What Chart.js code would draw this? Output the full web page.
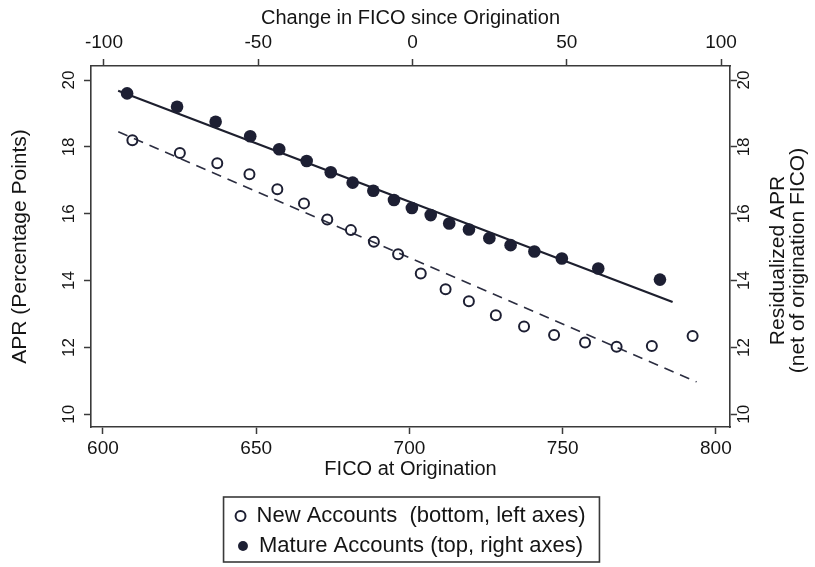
<!DOCTYPE html>
<html><head><meta charset="utf-8">
<script src="https://cdn.jsdelivr.net/npm/chart.js@4.4.0/dist/chart.umd.min.js"></script>
<style>html,body{margin:0;padding:0;background:#fff;}</style>
</head><body>
<canvas id="c" width="815" height="567"></canvas>
<script>
// ---- data ----
const newFico = [609.6, 625.1, 637.3, 647.8, 656.9, 665.6, 673.2, 680.9, 688.4, 696.3, 703.7, 711.8, 719.4, 728.2, 737.4, 747.2, 757.3, 767.6, 779.1, 792.4];
const newApr  = [18.20, 17.82, 17.51, 17.18, 16.73, 16.31, 15.83, 15.51, 15.16, 14.79, 14.21, 13.74, 13.38, 12.96, 12.63, 12.37, 12.15, 12.02, 12.04, 12.34];
const matureChange = [-92.5, -76.3, -63.8, -52.6, -43.2, -34.3, -26.5, -19.4, -12.7, -6.0, -0.2, 5.9, 11.9, 18.3, 24.9, 31.8, 39.5, 48.4, 60.2, 80.2];
const matureApr    = [19.60, 19.20, 18.75, 18.32, 17.93, 17.58, 17.24, 16.93, 16.69, 16.41, 16.17, 15.96, 15.71, 15.53, 15.27, 15.06, 14.87, 14.66, 14.36, 14.03];
const newFitX = [605.0, 793.7];
const newFitY = [18.45, 10.97];
const matureFitX = [-95.4, 84.3];
const matureFitY = [19.68, 13.36];
const ficoTicks = [600, 650, 700, 750, 800];
const changeTicks = [-100, -50, 0, 50, 100];
const aprTicks = [10, 12, 14, 16, 18, 20];
const legendLabels = ['New Accounts  (bottom, left axes)', 'Mature Accounts (top, right axes)'];
const axisTitles = {
  bottom: 'FICO at Origination',
  top: 'Change in FICO since Origination',
  left: 'APR (Percentage Points)',
  right: ['Residualized APR', '(net of origination FICO)']
};

// ---- styling ----
const FONT = "'Liberation Sans', Arial, Helvetica, sans-serif";
const INK = '#1d1f33';
const TXT = '#151515';
const FRAME = '#3a3a3a';

const pts = (xs, ys) => xs.map((x, i) => ({x, y: ys[i]}));
const tickSetter = arr => s => { s.ticks = arr.map(v => ({value: v})); };
const gridOpts = {display: true, drawOnChartArea: false, drawTicks: true, tickLength: 7, tickWidth: 1.5, tickColor: FRAME};
const borderOpts = {display: true, color: FRAME, width: 1.6};

const extras = {
  id: 'extras',
  afterDraw(chart) {
    const ctx = chart.ctx;
    const ca = chart.chartArea;
    // right axis title (reads bottom-to-top like the left one)
    const y2 = chart.scales.y2;
    ctx.save();
    ctx.fillStyle = TXT;
    ctx.font = '21px ' + FONT;
    ctx.textAlign = 'center';
    ctx.textBaseline = 'middle';
    const cy = (ca.top + ca.bottom) / 2 + 14;
    axisTitles.right.forEach((t, i) => {
      ctx.save();
      ctx.translate(y2.left + 48 + i * 20, cy);
      ctx.rotate(-Math.PI / 2);
      ctx.fillText(t, 0, 0);
      ctx.restore();
    });
    ctx.restore();
    // legend frame
    const lg = chart.legend;
    if (lg && lg.legendHitBoxes && lg.legendHitBoxes.length) {
      const hb = lg.legendHitBoxes;
      const l = Math.min(...hb.map(b => b.left)) - 12;
      const r = Math.max(...hb.map(b => b.left + b.width)) + 14;
      const t = Math.min(...hb.map(b => b.top)) - 8;
      const b = Math.max(...hb.map(b => b.top + b.height)) + 5;
      ctx.save();
      ctx.strokeStyle = FRAME;
      ctx.lineWidth = 1.6;
      ctx.strokeRect(l, t, r - l, b - t);
      ctx.restore();
    }
  }
};

new Chart(document.getElementById('c'), {
  type: 'scatter',
  data: {
    datasets: [
      {label: legendLabels[0], data: pts(newFico, newApr), xAxisID: 'x', yAxisID: 'y',
       pointStyle: 'circle', pointRadius: 5, pointBorderWidth: 2, borderWidth: 2,
       borderColor: INK, backgroundColor: 'rgba(0,0,0,0)', pointBackgroundColor: 'rgba(0,0,0,0)', pointBorderColor: INK},
      {label: legendLabels[1], data: pts(matureChange, matureApr), xAxisID: 'x2', yAxisID: 'y2',
       pointStyle: 'circle', pointRadius: 6.3, pointBorderWidth: 0, borderWidth: 0,
       borderColor: INK, backgroundColor: INK, pointBackgroundColor: INK},
      {label: 'fit-new', data: pts(newFitX, newFitY), xAxisID: 'x', yAxisID: 'y',
       showLine: true, pointRadius: 0, borderColor: '#2b2d40', borderWidth: 1.6, borderDash: [10, 7], fill: false},
      {label: 'fit-mature', data: pts(matureFitX, matureFitY), xAxisID: 'x2', yAxisID: 'y2',
       showLine: true, pointRadius: 0, borderColor: '#1d1f2e', borderWidth: 2.2, fill: false}
    ]
  },
  options: {
    responsive: false,
    animation: false,
    layout: {padding: {left: 0, right: 0, top: 0, bottom: 0}},
    plugins: {
      tooltip: {enabled: false},
      legend: {
        position: 'bottom', fullSize: false, align: 'center',
        labels: {
          usePointStyle: true, boxWidth: 10, boxHeight: 7, padding: 8,
          color: TXT, font: {family: FONT, size: 22},
          filter: item => item.datasetIndex < 2
        }
      }
    },
    scales: {
      x: {
        type: 'linear', position: 'bottom', min: 596.1, max: 804.6,
        afterBuildTicks: tickSetter(ficoTicks),
        ticks: {color: TXT, font: {family: FONT, size: 19}, padding: 3, maxRotation: 0, autoSkip: false},
        grid: gridOpts, border: borderOpts,
        title: {display: true, text: axisTitles.bottom, color: TXT, font: {family: FONT, size: 20}, padding: {top: 0, bottom: 16}},
        afterFit: s => { s.height = 70; }
      },
      x2: {
        type: 'linear', position: 'top', min: -104.2, max: 102.9,
        afterBuildTicks: tickSetter(changeTicks),
        ticks: {color: TXT, font: {family: FONT, size: 19}, padding: 5, maxRotation: 0, autoSkip: false},
        grid: gridOpts, border: borderOpts,
        title: {display: true, text: axisTitles.top, color: TXT, font: {family: FONT, size: 20}, padding: {top: 6, bottom: 0}},
        afterFit: s => { s.height = 66; }
      },
      y: {
        type: 'linear', position: 'left', min: 9.62, max: 20.42,
        afterBuildTicks: tickSetter(aprTicks),
        ticks: {color: TXT, font: {family: FONT, size: 17}, padding: 5, minRotation: 90, maxRotation: 90, crossAlign: 'center', autoSkip: false},
        grid: gridOpts, border: borderOpts,
        title: {display: true, text: axisTitles.left, color: TXT, font: {family: FONT, size: 21}, padding: {top: 8, bottom: 0}},
        afterFit: s => { s.width = 91; }
      },
      y2: {
        type: 'linear', position: 'right', min: 9.62, max: 20.42,
        afterBuildTicks: tickSetter(aprTicks),
        ticks: {color: TXT, font: {family: FONT, size: 17}, padding: -2, minRotation: 90, maxRotation: 90, crossAlign: 'center', autoSkip: false},
        grid: gridOpts, border: borderOpts,
        title: {display: false},
        afterFit: s => { s.width = 85; }
      }
    }
  },
  plugins: [extras]
});
</script>
</body></html>
